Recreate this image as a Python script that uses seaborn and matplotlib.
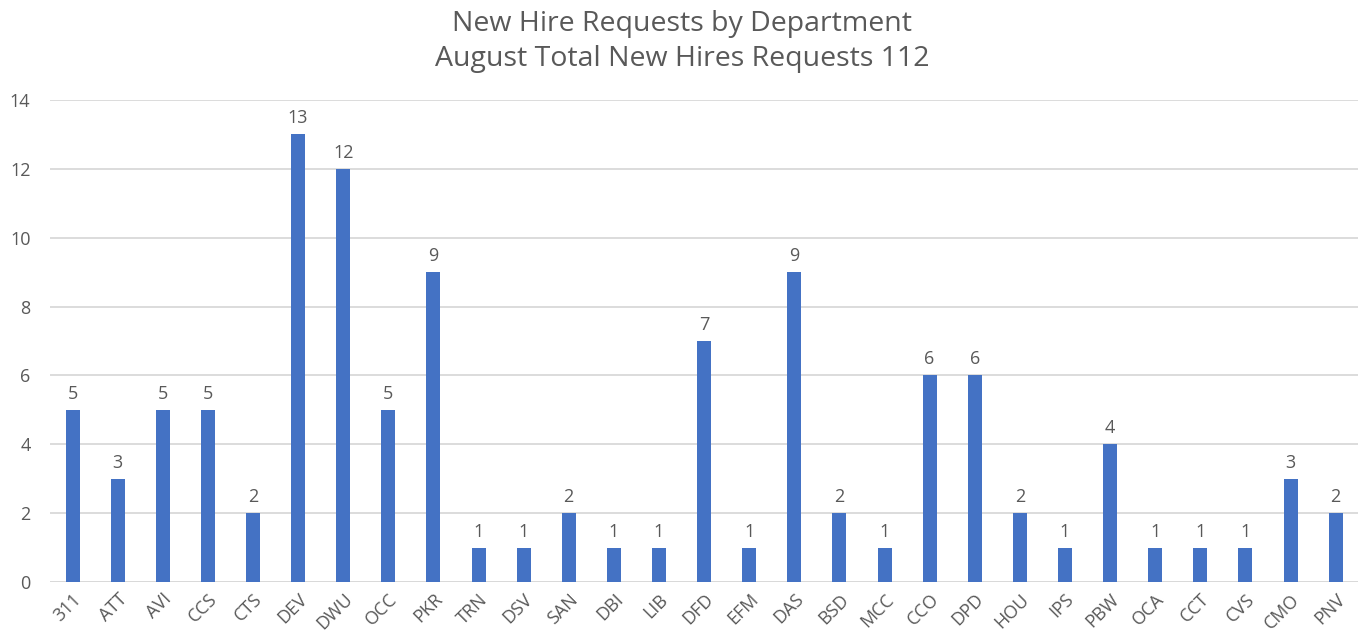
import pandas as pd
import seaborn as sns
import matplotlib.pyplot as plt

# Data
departments = ['311', 'ATT', 'AVI', 'CCS', 'CTS', 'DEV', 'DWU', 'OCC', 'PKR', 'TRN',
               'DSV', 'SAN', 'DBI', 'LIB', 'DFD', 'EFM', 'DAS', 'BSD', 'MCC', 'CCO',
               'DPD', 'HOU', 'IPS', 'PBW', 'OCA', 'CCT', 'CVS', 'CMO', 'PNV']
requests = [5, 3, 5, 5, 2, 13, 12, 5, 9, 1,
            1, 2, 1, 1, 7, 1, 9, 2, 1, 6,
            6, 2, 1, 4, 1, 1, 1, 3, 2]

df = pd.DataFrame({'Department': departments, 'Requests': requests})

sns.set_style("white")
plt.rcParams['font.family'] = ['Open Sans', 'DejaVu Sans']
text_color = '#595959'

fig = plt.figure(figsize=(13.65, 6.39), dpi=100)
ax = fig.add_axes([0.0366, 0.0892, 0.9584, 0.7543])

sns.barplot(data=df, x='Department', y='Requests', color='#4472C4',
            width=0.31, saturation=1, linewidth=0, ax=ax, zorder=3)

ax.set_ylim(0, 14)
ax.set_yticks(range(0, 15, 2))
ax.set_xlim(-0.5, len(departments) - 0.5)
ax.yaxis.grid(True, color='#D9D9D9', linewidth=1.3, zorder=0)
ax.set_axisbelow(True)
for s in ax.spines.values():
    s.set_visible(False)
ax.axhline(0, color='#D9D9D9', linewidth=1.3, zorder=1)

ax.tick_params(axis='both', length=0, colors=text_color, labelsize=13)
ax.tick_params(axis='y', pad=14)
ax.tick_params(axis='x', pad=6)
plt.setp(ax.get_xticklabels(), rotation=45, ha='right', rotation_mode='anchor')
ax.set_xlabel('')
ax.set_ylabel('')

for c in ax.containers:
    ax.bar_label(c, padding=5, fontsize=13, color=text_color)

fig.suptitle('New Hire Requests by Department\nAugust Total New Hires Requests 112',
             fontsize=20.5, color=text_color, y=0.985, linespacing=1.35)

plt.savefig('out.png', dpi=100)
